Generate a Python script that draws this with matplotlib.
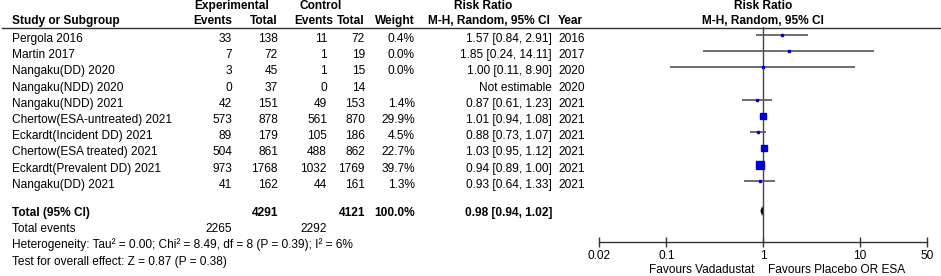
import numpy as np
import matplotlib
matplotlib.use("Agg")
import matplotlib.pyplot as plt

plt.rcParams.update({
    "font.family": ["Liberation Sans", "DejaVu Sans"],
    "font.size": 8.6,
})

# ── data ──────────────────────────────────────────────────────────────────────
studies = ["Pergola 2016", "Martin 2017", "Nangaku(DD) 2020", "Nangaku(NDD) 2020",
           "Nangaku(NDD) 2021", "Chertow(ESA-untreated) 2021", "Eckardt(Incident DD) 2021",
           "Chertow(ESA treated) 2021", "Eckardt(Prevalent DD) 2021", "Nangaku(DD) 2021"]
exp_events  = [33, 7, 3, 0, 42, 573, 89, 504, 973, 41]
exp_total   = [138, 72, 45, 37, 151, 878, 179, 861, 1768, 162]
ctrl_events = [11, 1, 1, 0, 49, 561, 105, 488, 1032, 44]
ctrl_total  = [72, 19, 15, 14, 153, 870, 186, 862, 1769, 161]
weights     = [0.4, 0.0, 0.0, None, 1.4, 29.9, 4.5, 22.7, 39.7, 1.3]
rr          = [1.57, 1.85, 1.00, None, 0.87, 1.01, 0.88, 1.03, 0.94, 0.93]
rr_lo       = [0.84, 0.24, 0.11, None, 0.61, 0.94, 0.73, 0.95, 0.89, 0.64]
rr_hi       = [2.91, 14.11, 8.90, None, 1.23, 1.08, 1.07, 1.12, 1.00, 1.33]
years       = [2016, 2017, 2020, 2020, 2021, 2021, 2021, 2021, 2021, 2021]

pooled = (0.98, 0.94, 1.02)
sum_exp_total, sum_ctrl_total = 4291, 4121
sum_exp_events, sum_ctrl_events = 2265, 2292
heterogeneity = "Heterogeneity: Tau² = 0.00; Chi² = 8.49, df = 8 (P = 0.39); I² = 6%"
overall_test = "Test for overall effect: Z = 0.87 (P = 0.38)"
axis_ticks = [0.02, 0.1, 1, 10, 50]
axis_ticklabels = ["0.02", "0.1", "1", "10", "50"]
favours_left, favours_right = "Favours Vadadustat", "Favours Placebo OR ESA"

# ── layout (pixel units) ──────────────────────────────────────────────────────
W, H = 941, 276
ROW0, DY = 39, 16.2
TOTAL_Y = 213
X_STUDY, X_EEV, X_ETOT, X_CEV, X_CTOT, X_WT, X_RR, X_YEAR = 12, 232, 278, 327, 365, 415, 552, 558
PLOT_L, PLOT_R, PLOT_TOP, PLOT_BOT = 599, 927, 27, 242

fig = plt.figure(figsize=(W / 100, H / 100), dpi=100)
tx = fig.add_axes([0, 0, 1, 1])
tx.set_xlim(0, W)
tx.set_ylim(H, 0)
tx.axis("off")


def t(x, y, s, ha="left", bold=False, **kw):
    tx.text(x, y, s, ha=ha, va="center", fontweight="bold" if bold else "normal", **kw)


# headers
t(232, 6, "Experimental", ha="center", bold=True)
t(321, 6, "Control", ha="center", bold=True)
t(483, 6, "Risk Ratio", ha="center", bold=True)
t(763, 6, "Risk Ratio", ha="center", bold=True)
t(X_STUDY, 21, "Study or Subgroup", bold=True)
t(X_EEV, 21, "Events", ha="right", bold=True)
t(X_ETOT, 21, "Total", ha="right", bold=True)
t(X_CEV + 6, 21, "Events", ha="right", bold=True)
t(X_CTOT, 21, "Total", ha="right", bold=True)
t(X_WT, 21, "Weight", ha="right", bold=True)
t(428, 21, "M-H, Random, 95% CI", bold=True)
t(X_YEAR, 21, "Year", bold=True)
t(763, 21, "M-H, Random, 95% CI", ha="center", bold=True)
tx.plot([2, 940], [27.5, 27.5], color="#333333", lw=1.0)

# study rows
for i, name in enumerate(studies):
    y = ROW0 + i * DY
    t(X_STUDY, y, name)
    t(X_EEV, y, str(exp_events[i]), ha="right")
    t(X_ETOT, y, str(exp_total[i]), ha="right")
    t(X_CEV, y, str(ctrl_events[i]), ha="right")
    t(X_CTOT, y, str(ctrl_total[i]), ha="right")
    if weights[i] is not None:
        t(X_WT, y, f"{weights[i]:.1f}%", ha="right")
    if rr[i] is not None:
        t(X_RR, y, f"{rr[i]:.2f} [{rr_lo[i]:.2f}, {rr_hi[i]:.2f}]", ha="right")
    else:
        t(X_RR, y, "Not estimable", ha="right")
    t(X_YEAR, y, str(years[i]))

# totals
t(X_STUDY, TOTAL_Y, "Total (95% CI)", bold=True)
t(X_ETOT, TOTAL_Y, str(sum_exp_total), ha="right", bold=True)
t(X_CTOT, TOTAL_Y, str(sum_ctrl_total), ha="right", bold=True)
t(X_WT, TOTAL_Y, "100.0%", ha="right", bold=True)
t(X_RR, TOTAL_Y, f"{pooled[0]:.2f} [{pooled[1]:.2f}, {pooled[2]:.2f}]", ha="right", bold=True)
t(X_STUDY, TOTAL_Y + 16, "Total events")
t(X_EEV, TOTAL_Y + 16, str(sum_exp_events), ha="right")
t(X_CEV, TOTAL_Y + 16, str(sum_ctrl_events), ha="right")
t(X_STUDY, TOTAL_Y + 32, heterogeneity)
t(X_STUDY, TOTAL_Y + 49, overall_test)

# ── forest panel ──────────────────────────────────────────────────────────────
ax = fig.add_axes([PLOT_L / W, 1 - PLOT_BOT / H, (PLOT_R - PLOT_L) / W, (PLOT_BOT - PLOT_TOP) / H])
ax.set_xscale("log")
ax.set_xlim(axis_ticks[0], axis_ticks[-1])
ax.set_ylim(PLOT_BOT, PLOT_TOP)
ax.patch.set_alpha(0)
for s in ("top", "left", "right"):
    ax.spines[s].set_visible(False)
ax.spines["bottom"].set_color("#333333")
ax.spines["bottom"].set_linewidth(1.0)
ax.set_yticks([])
ax.set_xticks(axis_ticks)
ax.set_xticklabels(axis_ticklabels)
ax.xaxis.set_minor_locator(matplotlib.ticker.NullLocator())
ax.tick_params(axis="x", direction="inout", length=7, width=1.0, color="#333333", pad=2)

ax.axvline(1, color="#444444", lw=1.0)

for i in range(len(studies)):
    if rr[i] is None:
        continue
    y = ROW0 + i * DY - 4
    ax.plot([rr_lo[i], rr_hi[i]], [y, y], color="#555555", lw=1.2, solid_capstyle="butt")
    side_px = max(1.27 * np.sqrt(weights[i]), 2.0)
    ax.plot(rr[i], y, marker="s", color="#0000cc", markersize=side_px * 0.72, lw=0)

dy_diamond = 5
ax.fill([pooled[1], pooled[0], pooled[2], pooled[0]],
        [TOTAL_Y - 2, TOTAL_Y - 2 - dy_diamond, TOTAL_Y - 2, TOTAL_Y - 2 + dy_diamond],
        color="black", lw=0)

t(755, 270, favours_left, ha="right")
t(768, 270, favours_right)

fig.savefig("out.png", dpi=100)
